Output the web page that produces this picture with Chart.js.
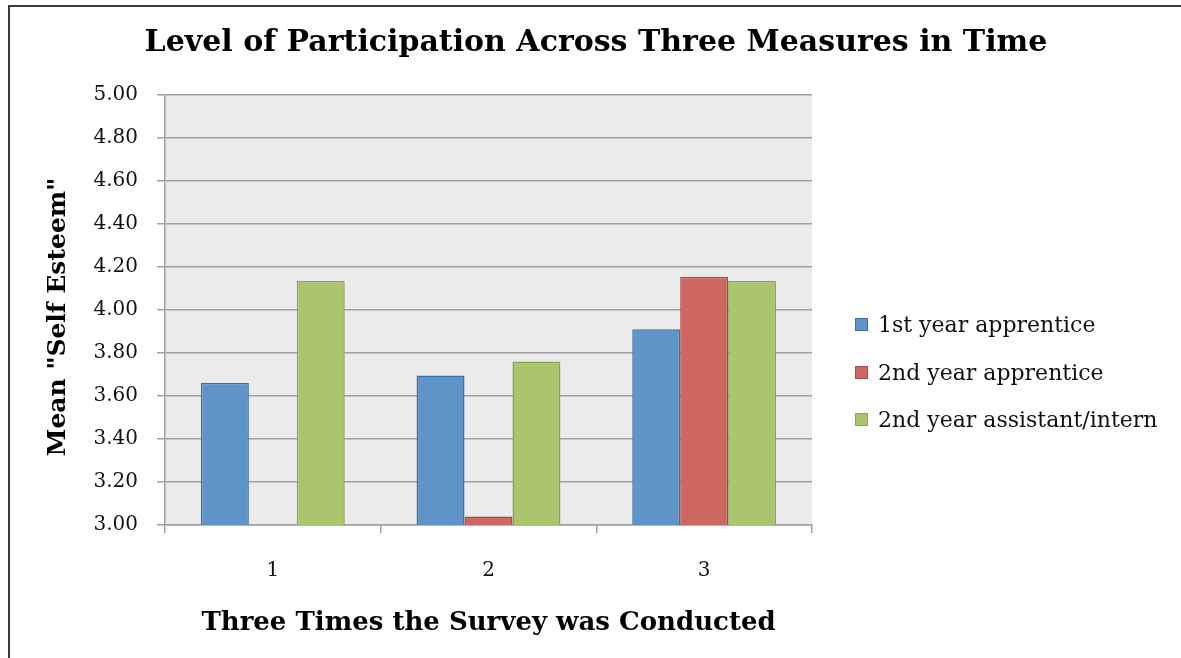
<!DOCTYPE html>
<html>
<head>
<meta charset="utf-8">
<script src="https://cdn.jsdelivr.net/npm/chart.js@4.4.1/dist/chart.umd.min.js"></script>
<style>
  html, body { margin: 0; padding: 0; background: #fff; }
  #wrap { position: relative; width: 1181px; height: 658px; overflow: hidden; }
  #frame { position: absolute; left: 8px; top: 5px; width: 1300px; height: 800px;
           border-left: 2px solid #3a3a3a; border-top: 2px solid #3a3a3a; }
  canvas { position: absolute; left: 0; top: 0; }
</style>
</head>
<body>
<div id="wrap">
  <div id="frame"></div>
  <canvas id="c" width="1181" height="658"></canvas>
</div>
<script>
// Survey rounds and mean self-esteem scores per group
const categories = ['1', '2', '3'];
const firstYearApprentice = [3.66, 3.695, 3.91];
const secondYearApprentice = [3.00, 3.04, 4.155];
const secondYearAssistant = [4.135, 3.76, 4.135];
const seriesNames = ['1st year apprentice', '2nd year apprentice', '2nd year assistant/intern'];
const yTickValues = [3.00, 3.20, 3.40, 3.60, 3.80, 4.00, 4.20, 4.40, 4.60, 4.80, 5.00];

const chartTitle = 'Level of Participation Across Three Measures in Time';
const xTitle = 'Three Times the Survey was Conducted';
const yTitle = 'Mean "Self Esteem"';

const SERIF = '"DejaVu Serif", "Liberation Serif", serif';

const fills = ['#5F94C9', '#CE6661', '#ABC56D'];
const borders = ['#3F6EA4', '#A54A45', '#8AA553'];

// Plot background, title, axis titles and legend
const decorations = {
  id: 'decorations',
  beforeDraw(chart) {
    const { ctx, chartArea: a } = chart;
    ctx.save();
    ctx.fillStyle = '#EBEBEB';
    ctx.fillRect(a.left, a.top, a.right - a.left, a.bottom - a.top);
    ctx.restore();
  },
  afterDraw(chart) {
    const { ctx, chartArea: a } = chart;
    ctx.save();
    ctx.fillStyle = '#000';
    ctx.textAlign = 'center';
    ctx.textBaseline = 'middle';
    ctx.font = 'bold 30px ' + SERIF;
    ctx.fillText(chartTitle, 596, 43);

    ctx.font = 'bold 26px ' + SERIF;
    ctx.fillText(xTitle, (a.left + a.right) / 2, 623);

    ctx.save();
    ctx.font = 'bold 25px ' + SERIF;
    ctx.translate(58, 317);
    ctx.rotate(-Math.PI / 2);
    ctx.fillText(yTitle, 0, 0);
    ctx.restore();

    // legend
    ctx.textAlign = 'left';
    ctx.font = '22px ' + SERIF;
    const rows = [325, 373, 420];
    chart.data.datasets.forEach((ds, i) => {
      const y = rows[i];
      ctx.fillStyle = ds.backgroundColor;
      ctx.fillRect(855, y - 7, 13, 13);
      ctx.strokeStyle = ds.borderColor;
      ctx.lineWidth = 1;
      ctx.strokeRect(855.5, y - 6.5, 12, 12);
      ctx.fillStyle = '#111';
      ctx.fillText(ds.label, 878, y + 1);
    });
    ctx.restore();
  }
};

const seriesValues = [firstYearApprentice, secondYearApprentice, secondYearAssistant];

new Chart(document.getElementById('c'), {
  type: 'bar',
  data: {
    labels: categories,
    datasets: seriesValues.map((vals, i) => ({
      label: seriesNames[i],
      data: vals,
      backgroundColor: fills[i],
      borderColor: borders[i],
      borderWidth: 1.5,
      categoryPercentage: 0.667,
      barPercentage: 1.0
    }))
  },
  options: {
    responsive: false,
    animation: false,
    devicePixelRatio: 1,
    layout: { padding: { top: 95, right: 369, bottom: 0, left: 0 } },
    plugins: {
      legend: { display: false },
      title: { display: false },
      tooltip: { enabled: false }
    },
    scales: {
      x: {
        grid: {
          display: true, drawOnChartArea: false, drawTicks: true,
          tickLength: 8, color: '#A0A0A0', lineWidth: 1.5, offset: true
        },
        border: { display: true, color: '#A0A0A0', width: 1.5 },
        ticks: {
          font: { family: SERIF, size: 20 }, color: '#111', padding: 26
        },
        afterFit(s) { s.height = 133; }
      },
      y: {
        min: 3.0,
        max: 5.0,
        afterBuildTicks(s) { s.ticks = yTickValues.map(v => ({ value: v })); },
        grid: { color: '#A0A0A0', lineWidth: 1.5, tickLength: 8 },
        border: { display: true, color: '#A0A0A0', width: 1.5 },
        ticks: {
          font: { family: SERIF, size: 20 }, color: '#111', padding: 19,
          callback: v => Number(v).toFixed(2)
        },
        afterFit(s) { s.width = 165; }
      }
    }
  },
  plugins: [decorations]
});
</script>
</body>
</html>
